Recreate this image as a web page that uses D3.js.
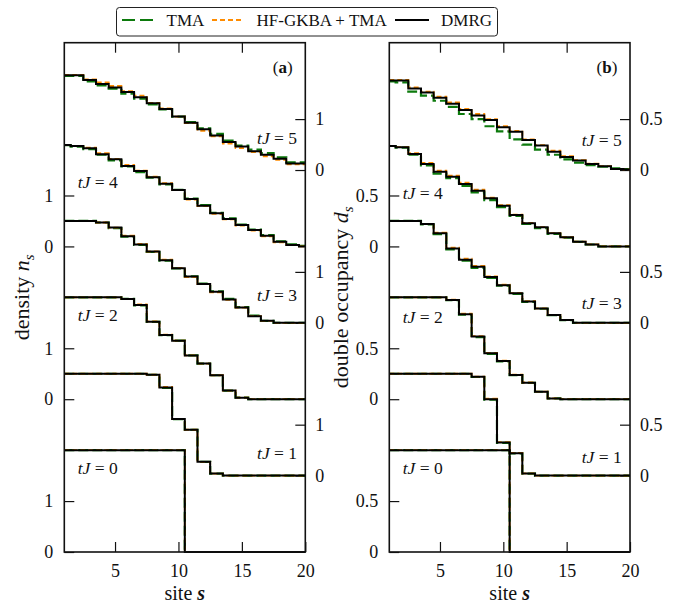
<!DOCTYPE html>
<html>
<head>
<meta charset="utf-8">
<script src="https://cdn.jsdelivr.net/npm/d3@7/dist/d3.min.js"></script>
<style>
  html, body { margin: 0; padding: 0; background: #fff; }
  svg { display: block; }
  text { font-family: "Liberation Serif", "Times New Roman", serif; fill: #111; }
</style>
</head>
<body>
<div id="chart"></div>
<script>
// ---------------- data ----------------
const sites = [1,2,3,4,5,6,7,8,9,10,11,12,13,14,15,16,17,18,19,20];
const times = [0,1,2,3,4,5];
const seriesNames = ["TMA", "HF-GKBA + TMA", "DMRG"];

// panel (a): density n_s, one row per tJ = 0..5
const densityDMRG = [
  [2,2,2,2,2,2,2,2,2,2,0,0,0,0,0,0,0,0,0,0],
  [2,2,2,2,2,2,2,1.98,1.73,1.11,0.90,0.27,0.04,0,0,0,0,0,0,0],
  [2,2,2,2,2,1.97,1.85,1.52,1.26,1.15,0.86,0.70,0.47,0.17,0.03,0,0,0,0,0],
  [2,2,2,1.97,1.87,1.70,1.54,1.40,1.23,1.07,0.91,0.76,0.61,0.46,0.30,0.13,0.04,0,0,0],
  [1.99,1.97,1.93,1.81,1.71,1.58,1.48,1.36,1.23,1.11,0.93,0.80,0.65,0.54,0.42,0.32,0.21,0.09,0.03,0],
  [1.86,1.86,1.77,1.69,1.62,1.53,1.43,1.31,1.20,1.05,0.93,0.80,0.68,0.55,0.46,0.37,0.30,0.22,0.13,0.13]
];
const densityTMA = [
  [2,2,2,2,2,2,2,2,2,2,0,0,0,0,0,0,0,0,0,0],
  [2,2,2,2,2,2,2,1.98,1.72,1.11,0.90,0.27,0.04,0,0,0,0,0,0,0],
  [2,2,2,2,2,1.97,1.84,1.52,1.26,1.15,0.86,0.70,0.47,0.17,0.03,0,0,0,0,0],
  [2,2,2,1.97,1.86,1.69,1.53,1.39,1.22,1.07,0.91,0.77,0.62,0.47,0.31,0.14,0.04,0,0,0],
  [1.99,1.96,1.91,1.80,1.69,1.57,1.46,1.35,1.22,1.11,0.94,0.81,0.66,0.55,0.43,0.33,0.22,0.10,0.04,0.01],
  [1.85,1.85,1.74,1.66,1.60,1.50,1.40,1.29,1.19,1.05,0.94,0.82,0.71,0.58,0.48,0.40,0.33,0.25,0.15,0.15]
];
const densityHF = [
  [2,2,2,2,2,2,2,2,2,2,0,0,0,0,0,0,0,0,0,0],
  [2,2,2,2,2,2,2,1.98,1.74,1.11,0.90,0.27,0.04,0,0,0,0,0,0,0],
  [2,2,2,2,2,1.97,1.86,1.53,1.27,1.15,0.86,0.70,0.47,0.17,0.03,0,0,0,0,0],
  [2,2,2,1.97,1.87,1.71,1.55,1.40,1.24,1.08,0.90,0.76,0.60,0.45,0.30,0.13,0.04,0,0,0],
  [1.99,1.97,1.94,1.83,1.72,1.60,1.49,1.37,1.24,1.11,0.92,0.79,0.64,0.53,0.41,0.31,0.20,0.08,0.03,0],
  [1.87,1.87,1.78,1.72,1.65,1.55,1.46,1.32,1.21,1.05,0.92,0.77,0.66,0.52,0.43,0.35,0.27,0.20,0.11,0.11]
];

// panel (b): double occupancy d_s, one row per tJ = 0..5
const doubleDMRG = [
  [1,1,1,1,1,1,1,1,1,1,0,0,0,0,0,0,0,0,0,0],
  [1,1,1,1,1,1,1,0.97,0.75,0.325,0.22,0.02,0,0,0,0,0,0,0,0],
  [1,1,1,1,1,0.975,0.835,0.615,0.45,0.375,0.238,0.162,0.074,0.008,0,0,0,0,0,0],
  [1,1,1,0.97,0.88,0.73,0.62,0.55,0.45,0.37,0.29,0.21,0.14,0.077,0.028,0,0,0,0,0],
  [0.986,0.973,0.907,0.809,0.734,0.685,0.613,0.547,0.472,0.40,0.308,0.227,0.187,0.129,0.089,0.046,0.02,0,0,0],
  [0.88,0.88,0.80,0.76,0.71,0.65,0.59,0.535,0.49,0.42,0.375,0.295,0.24,0.18,0.128,0.093,0.059,0.036,0.01,0.005]
];
const doubleTMA = [
  [1,1,1,1,1,1,1,1,1,1,0,0,0,0,0,0,0,0,0,0],
  [1,1,1,1,1,1,1,0.968,0.745,0.322,0.218,0.02,0,0,0,0,0,0,0,0],
  [1,1,1,1,1,0.972,0.83,0.61,0.445,0.372,0.236,0.16,0.073,0.008,0,0,0,0,0,0],
  [1,1,1,0.965,0.87,0.72,0.61,0.54,0.44,0.365,0.285,0.205,0.138,0.075,0.027,0,0,0,0,0],
  [0.986,0.97,0.90,0.795,0.715,0.67,0.595,0.53,0.455,0.385,0.30,0.22,0.18,0.123,0.085,0.044,0.019,0,0,0],
  [0.87,0.86,0.77,0.73,0.68,0.62,0.55,0.50,0.43,0.38,0.30,0.25,0.20,0.15,0.105,0.072,0.049,0.032,0.016,0.01]
];
const doubleHF = [
  [1,1,1,1,1,1,1,1,1,1,0,0,0,0,0,0,0,0,0,0],
  [1,1,1,1,1,1,1,0.972,0.755,0.328,0.222,0.021,0,0,0,0,0,0,0,0],
  [1,1,1,1,1,0.978,0.84,0.62,0.455,0.378,0.24,0.164,0.075,0.008,0,0,0,0,0,0],
  [1,1,1,0.972,0.885,0.738,0.63,0.558,0.455,0.375,0.292,0.212,0.142,0.078,0.028,0,0,0,0,0],
  [0.986,0.975,0.915,0.82,0.745,0.695,0.625,0.558,0.48,0.405,0.312,0.23,0.19,0.131,0.09,0.047,0.02,0,0,0],
  [0.885,0.885,0.81,0.77,0.72,0.665,0.60,0.55,0.50,0.43,0.385,0.30,0.245,0.19,0.135,0.097,0.062,0.038,0.012,0.006]
];

// vertical offsets of the stacked curves (data units)
const offsetsA = [0, 1.5, 3, 4.5, 6, 7.5];
const offsetsB = [0, 0.75, 1.5, 2.25, 3, 3.75];
// axis tick values (local, per curve) and labels
const ticksA = [0, 1];
const ticksB = [0, 0.5];
const xTicks = [5, 10, 15, 20];

// ---------------- layout ----------------
const W = 678, H = 606;
const plotTop = 42.7, plotBottom = 552;
const panels = [
  { id: "a", left: 64.3, right: 305.3, ymax: 10, offsets: offsetsA, ticks: ticksA,
    tma: densityTMA, hf: densityHF, dmrg: densityDMRG,
    ylabel: ["density ", "n", "s"], ylabelX: 29,
    labelY: [1.53, 1.83, 4.54, 4.93, 7.15, 8.01] },
  { id: "b", left: 389.3, right: 630, ymax: 5, offsets: offsetsB, ticks: ticksB,
    tma: doubleTMA, hf: doubleHF, dmrg: doubleDMRG,
    ylabel: ["double occupancy ", "d", "s"], ylabelX: 348,
    labelY: [0.766, 0.874, 2.248, 2.386, 3.466, 3.986] }
];
const colors = { tma: "#0c7a0c", hf: "#ff8c00", dmrg: "#000" };

const svg = d3.select("#chart").append("svg").attr("width", W).attr("height", H);

panels.forEach(p => {
  const x = d3.scaleLinear().domain([1, 20]).range([p.left, p.right]);
  const y = d3.scaleLinear().domain([0, p.ymax]).range([plotBottom, plotTop]);
  const g = svg.append("g");

  const xb = g.append("g").attr("transform", `translate(0,${plotBottom})`)
    .call(d3.axisBottom(x).tickValues(xTicks).tickSizeInner(-10).tickSizeOuter(0).tickPadding(12));
  const xt = g.append("g").attr("transform", `translate(0,${plotTop})`)
    .call(d3.axisTop(x).tickValues(xTicks.slice(0, 3)).tickSizeInner(-10).tickSizeOuter(0).tickFormat(""));

  const leftVals = [], rightVals = [];
  times.forEach((t, i) => {
    p.ticks.forEach(v => (t % 2 === 0 ? leftVals : rightVals).push(v + p.offsets[i]));
  });
  const fmtFor = vals => (v) => {
    const idx = vals.indexOf(v);
    return String(p.ticks[idx % p.ticks.length]);
  };
  const yl = g.append("g").attr("transform", `translate(${p.left},0)`)
    .call(d3.axisLeft(y).tickValues(leftVals).tickFormat(fmtFor(leftVals)).tickSizeInner(-10).tickSizeOuter(0).tickPadding(11));
  const yr = g.append("g").attr("transform", `translate(${p.right},0)`)
    .call(d3.axisRight(y).tickValues(rightVals).tickFormat(fmtFor(rightVals)).tickSizeInner(-10).tickSizeOuter(0).tickPadding(10));

  [xb, xt, yl, yr].forEach(a => {
    a.attr("font-family", null);
    a.select(".domain").remove();
    a.selectAll(".tick line").attr("stroke", "#111").attr("stroke-width", 1.2);
    a.selectAll(".tick text").style("font-family", "Liberation Serif, serif").style("font-size", "18px").attr("fill", "#111");
  });

  const line = off => d3.line().x((d, i) => x(sites[i])).y(d => y(d + off)).curve(d3.curveStep);
  const curves = g.append("g").attr("fill", "none").attr("stroke-linejoin", "miter").attr("stroke-linecap", "butt");
  times.forEach((t, i) => {
    curves.append("path").attr("d", line(p.offsets[i])(p.tma[i]))
      .attr("stroke", colors.tma).attr("stroke-width", 2.2).attr("stroke-dasharray", "10,4");
    curves.append("path").attr("d", line(p.offsets[i])(p.hf[i]))
      .attr("stroke", colors.hf).attr("stroke-width", 1.8).attr("stroke-dasharray", "5,3");
  });
  times.forEach((t, i) => {
    curves.append("path").attr("d", line(p.offsets[i])(p.dmrg[i]))
      .attr("stroke", colors.dmrg).attr("stroke-width", 2);
  });

  g.append("rect").attr("x", p.left).attr("y", plotTop)
    .attr("width", p.right - p.left).attr("height", plotBottom - plotTop)
    .attr("fill", "none").attr("stroke", "#111").attr("stroke-width", 1.6);

  times.forEach((t, i) => {
    const even = t % 2 === 0;
    const tx = g.append("text")
      .attr("x", even ? x(2.06) : x(19.35))
      .attr("y", y(p.labelY[i]))
      .attr("text-anchor", even ? "start" : "end")
      .style("font-size", "17.5px");
    tx.append("tspan").attr("font-style", "italic").text("tJ");
    tx.append("tspan").text(" = " + t);
  });

  const tag = g.append("text").attr("x", x(19.0)).attr("y", 73).attr("text-anchor", "end").style("font-size", "17px");
  tag.append("tspan").text("(");
  tag.append("tspan").attr("font-weight", "bold").text(p.id);
  tag.append("tspan").text(")");

  const xl = g.append("text").attr("x", (p.left + p.right) / 2).attr("y", 600)
    .attr("text-anchor", "middle").style("font-size", "20px");
  xl.append("tspan").text("site ");
  xl.append("tspan").attr("font-style", "italic").attr("font-weight", "bold").text("s");

  const cy = (plotTop + plotBottom) / 2;
  const ylab = g.append("text").attr("transform", `translate(${p.ylabelX},${cy}) rotate(-90)`)
    .attr("text-anchor", "middle").style("font-size", "22px");
  ylab.append("tspan").text(p.ylabel[0]);
  ylab.append("tspan").attr("font-style", "italic").text(p.ylabel[1]);
  ylab.append("tspan").attr("font-style", "italic").attr("dy", 5).style("font-size", "15px").text(p.ylabel[2]);
});

const lg = svg.append("g");
lg.append("rect").attr("x", 116.5).attr("y", 7.5).attr("width", 381).attr("height", 28.5)
  .attr("rx", 3).attr("fill", "#fff").attr("stroke", "#222").attr("stroke-width", 1);
const legendItems = [
  { key: "tma", x0: 122, x1: 153, tx: 166.5, dash: "13,5", w: 2.2 },
  { key: "hf", x0: 212, x1: 242, tx: 256.5, dash: "5,3", w: 1.8 },
  { key: "dmrg", x0: 395, x1: 429, tx: 441, dash: null, w: 2 }
];
legendItems.forEach((it, i) => {
  lg.append("line").attr("x1", it.x0).attr("x2", it.x1).attr("y1", 20).attr("y2", 20)
    .attr("stroke", colors[it.key]).attr("stroke-width", it.w)
    .attr("stroke-dasharray", it.dash);
  lg.append("text").attr("x", it.tx).attr("y", 26).style("font-size", "17px").text(seriesNames[i]);
});
</script>
</body>
</html>
